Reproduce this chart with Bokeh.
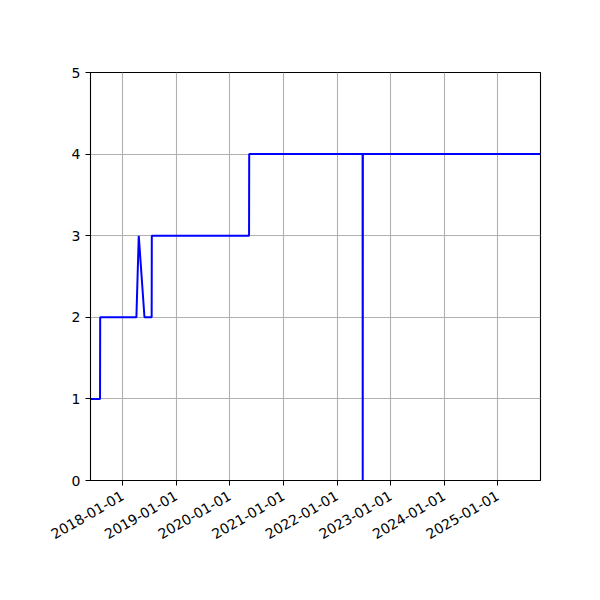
import pandas as pd
from bokeh.plotting import figure
from bokeh.models import Range1d, FixedTicker, DatetimeTickFormatter
from bokeh.embed import file_html
from bokeh.resources import INLINE
import numpy as np

# Données
dates = ["2017-05-26", "2017-07-30", "2017-07-31", "2018-04-04", "2018-04-20",
         "2018-05-29", "2018-07-17", "2018-07-18", "2020-05-11", "2020-05-12",
         "2022-06-24", "2022-06-25", "2022-06-26", "2025-10-19"]
values = [1, 1, 2, 2, 3, 2, 2, 3, 3, 4, 4, 0, 4, 4]
x_ticks = ["2018-01-01", "2019-01-01", "2020-01-01", "2021-01-01",
           "2022-01-01", "2023-01-01", "2024-01-01", "2025-01-01"]
y_ticks = [0, 1, 2, 3, 4, 5]

x = pd.to_datetime(dates)
tick_ms = [pd.Timestamp(t).value / 1e6 for t in x_ticks]

p = figure(width=600, height=600, x_axis_type="datetime",
           x_range=Range1d(x[0], x[-1]), y_range=Range1d(0, 5),
           output_backend="svg", toolbar_location=None,
           min_border_left=90, min_border_top=72, min_border_right=60, min_border_bottom=120)

p.line(x, values, line_color="#0000ff", line_width=2)

p.xaxis.ticker = FixedTicker(ticks=tick_ms)
fmt = "%Y-%m-%d"
p.xaxis.formatter = DatetimeTickFormatter(years=fmt, months=fmt, days=fmt, hours=fmt,
                                          minutes=fmt, seconds=fmt, milliseconds=fmt)
p.xaxis.major_label_orientation = np.pi / 6
p.xaxis.major_label_standoff = 9
p.yaxis.ticker = FixedTicker(ticks=y_ticks)

for ax in (p.xaxis, p.yaxis):
    ax.major_tick_in = 0
    ax.major_tick_out = 5
    ax.minor_tick_in = 0
    ax.minor_tick_out = 0
    ax.axis_line_color = "black"
    ax.major_tick_line_color = "black"
    ax.major_label_text_font = "DejaVu Sans"
    ax.major_label_text_font_size = "14px"
    ax.major_label_text_color = "black"

p.grid.grid_line_color = "#b0b0b0"
p.grid.grid_line_width = 1.1
p.outline_line_color = "black"
p.outline_line_width = 1.1
p.background_fill_color = "white"
p.border_fill_color = "white"

open("out.html", "w").write(file_html(p, INLINE))
